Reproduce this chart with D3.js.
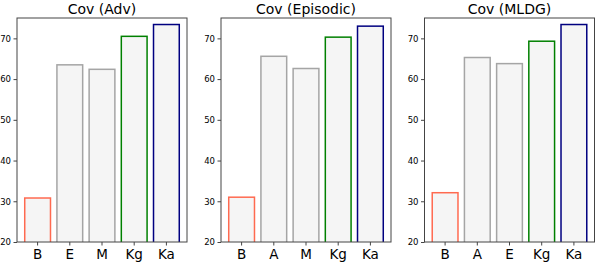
<!DOCTYPE html>
<html>
<head>
<meta charset="utf-8">
<script src="https://cdn.jsdelivr.net/npm/d3@7"></script>
<style>
  body { margin: 0; background: #fff; }
  text { font-family: "DejaVu Sans", sans-serif; }
</style>
</head>
<body>
<svg id="chart" width="596" height="262"></svg>
<script>
// panel titles
const titles = ["Cov (Adv)", "Cov (Episodic)", "Cov (MLDG)"];

// categories in each panel
const catsAdv = ["B", "E", "M", "Kg", "Ka"];
const catsEpisodic = ["B", "A", "M", "Kg", "Ka"];
const catsMLDG = ["B", "A", "E", "Kg", "Ka"];

// values
const valsAdv = [30.8, 63.5, 62.4, 70.5, 73.4];
const valsEpisodic = [31.0, 65.6, 62.6, 70.3, 73.0];
const valsMLDG = [32.1, 65.3, 63.8, 69.3, 73.4];

const yTicks = [20, 30, 40, 50, 60, 70];

const panels = [
  { title: titles[0], cats: catsAdv, vals: valsAdv },
  { title: titles[1], cats: catsEpisodic, vals: valsEpisodic },
  { title: titles[2], cats: catsMLDG, vals: valsMLDG },
];

const edge = (c) => {
  if (c === "B") return "#ff6a50";
  if (c === "Kg") return "#008000";
  if (c === "Ka") return "#000080";
  return "#a5a5a5";
};

const svg = d3.select("#chart");
const lefts = [17, 221, 424.5];
const plotTop = 18, plotBottom = 242, w = 170;

const y = d3.scaleLinear().domain([20, 75]).range([plotBottom, plotTop]);

panels.forEach((p, i) => {
  const g = svg.append("g").attr("transform", `translate(${lefts[i]},0)`);
  const x = d3.scaleBand().domain(p.cats).range([0, w])
    .paddingInner(0.2).paddingOuter(0.24);

  g.append("clipPath").attr("id", "clip" + i)
    .append("rect").attr("x", 0).attr("y", plotTop).attr("width", w).attr("height", plotBottom - plotTop);

  g.append("g").attr("clip-path", `url(#clip${i})`)
    .selectAll("rect").data(p.vals).join("rect")
    .attr("x", (d, j) => x(p.cats[j]))
    .attr("width", x.bandwidth())
    .attr("y", d => y(d))
    .attr("height", d => y(0) - y(d))
    .attr("fill", "#f5f5f5")
    .attr("stroke", (d, j) => edge(p.cats[j]))
    .attr("stroke-width", 1.5);

  // frame
  g.append("rect").attr("x", 0).attr("y", plotTop).attr("width", w).attr("height", plotBottom - plotTop)
    .attr("fill", "none").attr("stroke", "#444").attr("stroke-width", 1);

  const ya = g.append("g").call(d3.axisLeft(y).tickValues(yTicks).tickSize(3.5).tickPadding(2.5));
  ya.select(".domain").remove();
  ya.selectAll("text").attr("font-size", "8.5px").attr("fill", "#000");
  ya.selectAll("line").attr("stroke", "#444");

  const xa = g.append("g").attr("transform", `translate(0,${plotBottom})`)
    .call(d3.axisBottom(x).tickSize(3.5).tickPadding(3.5));
  xa.select(".domain").remove();
  xa.selectAll("text").attr("font-size", "13.5px").attr("fill", "#000");
  xa.selectAll("line").attr("stroke", "#444");

  g.append("text").attr("x", w / 2).attr("y", 13.5)
    .attr("text-anchor", "middle").attr("font-size", "14px").text(p.title);
});
</script>
</body>
</html>
